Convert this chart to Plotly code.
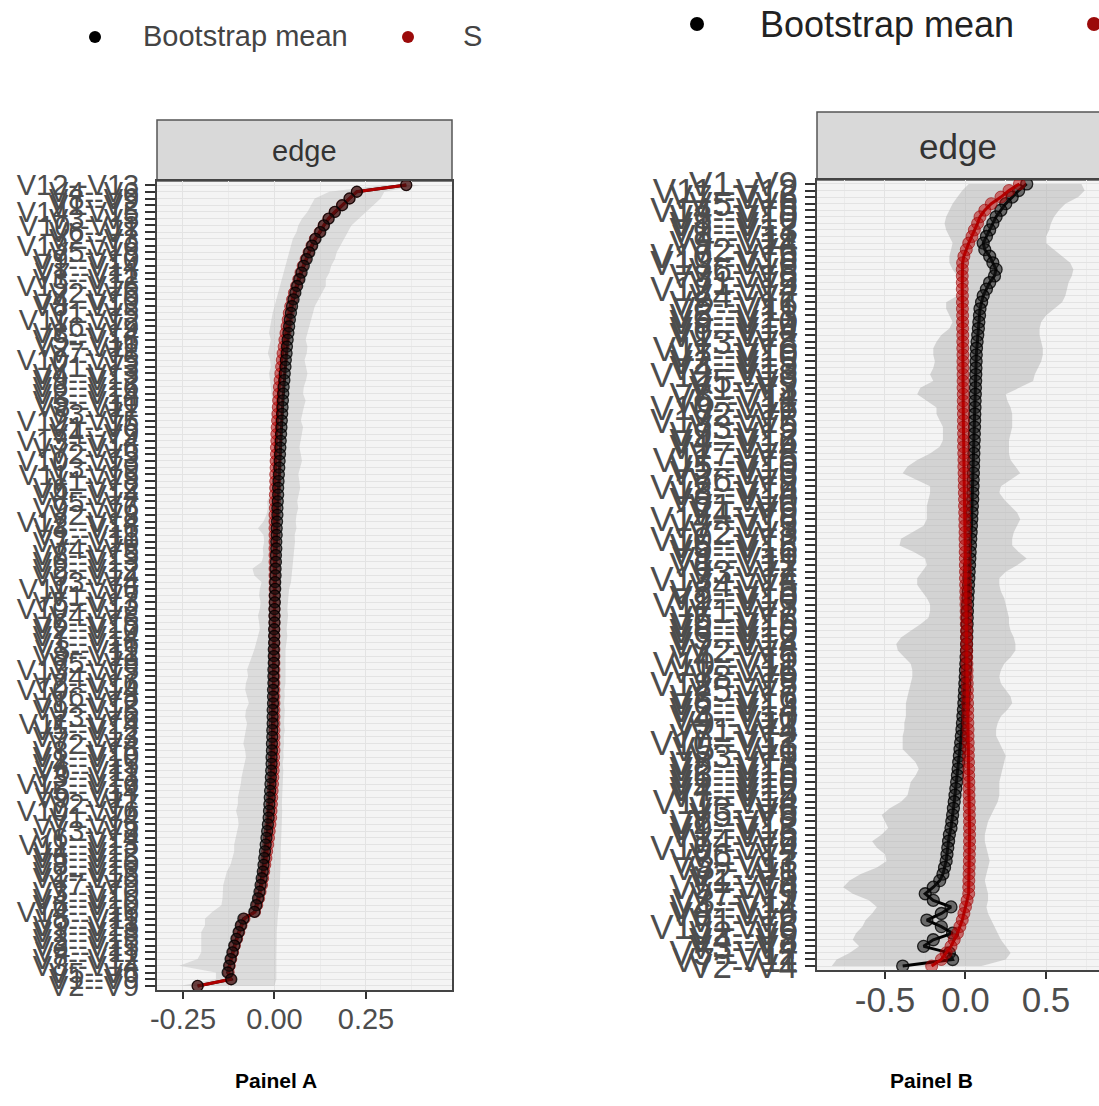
import plotly.graph_objects as go

W, H = 1099, 1106
FONT = "Liberation Sans"

# ---------------- Panel A data (top -> bottom) ----------------
edges_A = [
    "V12--V13", "V4--V6", "V8--V9", "V1--V2", "V14--V15", "V3--V5", "V10--V11", "V6--V7", "V2--V3", "V13--V16",
    "V5--V8", "V9--V10", "V1--V14", "V7--V11", "V3--V12", "V15--V16", "V2--V6", "V4--V10", "V8--V13", "V1--V5",
    "V11--V12", "V6--V9", "V3--V14", "V5--V16", "V2--V11", "V7--V8", "V10--V15", "V1--V3", "V4--V13", "V9--V12",
    "V6--V16", "V2--V14", "V5--V10", "V8--V11", "V3--V7", "V12--V15", "V1--V6", "V4--V9", "V13--V14", "V7--V16",
    "V2--V5", "V10--V13", "V3--V9", "V11--V15", "V1--V8", "V6--V12", "V4--V14", "V5--V7", "V9--V16", "V2--V8",
    "V12--V14", "V3--V16", "V1--V11", "V7--V10", "V4--V5", "V8--V15", "V6--V13", "V2--V12", "V9--V14", "V3--V4",
    "V11--V16", "V1--V7", "V5--V13", "V10--V12", "V4--V8", "V6--V15", "V2--V10", "V7--V14", "V1--V16", "V3--V11",
    "V8--V12", "V5--V9", "V13--V15", "V4--V7", "V2--V16", "V10--V14", "V6--V8", "V1--V12", "V9--V15", "V3--V6",
    "V11--V14", "V5--V12", "V7--V13", "V2--V4", "V8--V16", "V1--V10", "V4--V15", "V6--V11", "V3--V13", "V12--V16",
    "V5--V14", "V9--V11", "V2--V7", "V10--V16", "V1--V4", "V7--V15", "V3--V8", "V6--V14", "V11--V13", "V4--V12",
    "V5--V15", "V8--V10", "V2--V13", "V1--V15", "V7--V9", "V3--V10", "V4--V16", "V6--V10", "V14--V16", "V5--V11",
    "V9--V13", "V1--V13", "V2--V15", "V3--V15", "V4--V11", "V7--V12", "V8--V14", "V5--V6", "V1--V9", "V2--V9",
]
mean_A = [
    0.36, 0.225, 0.205, 0.185, 0.165, 0.148, 0.135, 0.125, 0.112, 0.103,
    0.095, 0.088, 0.08, 0.074, 0.068, 0.062, 0.057, 0.052, 0.048, 0.045,
    0.042, 0.04, 0.038, 0.036, 0.034, 0.033, 0.031, 0.03, 0.028, 0.027,
    0.025, 0.024, 0.023, 0.022, 0.021, 0.02, 0.019, 0.018, 0.017, 0.016,
    0.015, 0.014, 0.013, 0.012, 0.011, 0.01, 0.01, 0.009, 0.008, 0.008,
    0.007, 0.006, 0.006, 0.005, 0.005, 0.004, 0.004, 0.003, 0.003, 0.002,
    0.002, 0.001, 0.001, 0.0, 0.0, 0.0, -0.001, -0.001, -0.001, -0.002,
    -0.002, -0.002, -0.003, -0.003, -0.003, -0.004, -0.004, -0.004, -0.005, -0.005,
    -0.005, -0.006, -0.006, -0.007, -0.007, -0.008, -0.008, -0.009, -0.01, -0.011,
    -0.012, -0.013, -0.014, -0.015, -0.016, -0.018, -0.02, -0.022, -0.024, -0.026,
    -0.028, -0.03, -0.032, -0.035, -0.038, -0.041, -0.045, -0.05, -0.055, -0.085,
    -0.092, -0.098, -0.104, -0.11, -0.115, -0.12, -0.124, -0.128, -0.118, -0.21,
]
sample_A = [
    0.36, 0.225, 0.205, 0.184, 0.164, 0.147, 0.134, 0.123, 0.11, 0.101,
    0.093, 0.085, 0.077, 0.071, 0.065, 0.059, 0.053, 0.048, 0.043, 0.039,
    0.036, 0.033, 0.03, 0.027, 0.025, 0.022, 0.02, 0.018, 0.016, 0.014,
    0.012, 0.011, 0.01, 0.009, 0.008, 0.007, 0.006, 0.005, 0.005, 0.004,
    0.004, 0.003, 0.003, 0.002, 0.002, 0.002, 0.001, 0.001, 0.001, 0.0,
    0.0, 0.0, 0.0, 0.0, 0.0, 0.0, 0.0, 0.0, 0.0, 0.0,
    0.0, 0.0, 0.0, 0.0, 0.0, 0.0, 0.0, 0.0, 0.0, 0.0,
    0.0, 0.0, 0.0, 0.0, 0.0, 0.0, 0.0, 0.0, 0.0, 0.0,
    0.0, 0.0, 0.0, 0.0, 0.0, -0.001, -0.001, -0.002, -0.003, -0.004,
    -0.005, -0.006, -0.007, -0.008, -0.009, -0.011, -0.013, -0.015, -0.017, -0.02,
    -0.022, -0.025, -0.028, -0.031, -0.034, -0.038, -0.042, -0.047, -0.053, -0.082,
    -0.09, -0.096, -0.102, -0.108, -0.113, -0.118, -0.122, -0.125, -0.12, -0.21,
]
lower_A = [
    0.30, 0.15, 0.11, 0.10, 0.09, 0.075, 0.065, 0.06, 0.05, 0.045,
    0.04, 0.035, 0.03, 0.025, 0.02, 0.015, 0.01, 0.005, 0.0, -0.005,
    -0.01, -0.012, -0.015, -0.01, -0.014, -0.018, -0.012, -0.01, -0.015, -0.012,
    -0.01, -0.008, -0.006, -0.005, -0.01, -0.006, -0.004, -0.008, -0.005, -0.004,
    -0.006, -0.01, -0.007, -0.005, -0.01, -0.015, -0.012, -0.02, -0.018, -0.022,
    -0.03, -0.045, -0.03, -0.028, -0.032, -0.03, -0.035, -0.06, -0.055, -0.035,
    -0.04, -0.042, -0.038, -0.04, -0.045, -0.042, -0.04, -0.044, -0.05, -0.055,
    -0.06, -0.068, -0.075, -0.072, -0.078, -0.08, -0.075, -0.07, -0.078, -0.08,
    -0.075, -0.078, -0.082, -0.085, -0.08, -0.078, -0.082, -0.085, -0.09, -0.092,
    -0.095, -0.1, -0.1, -0.105, -0.1, -0.098, -0.102, -0.105, -0.11, -0.11,
    -0.115, -0.12, -0.13, -0.135, -0.14, -0.14, -0.142, -0.145, -0.17, -0.19,
    -0.19, -0.2, -0.2, -0.2, -0.2, -0.21, -0.26, -0.16, -0.16, -0.26,
]
upper_A = [
    0.40, 0.30, 0.29, 0.27, 0.25, 0.23, 0.21, 0.20, 0.19, 0.18,
    0.17, 0.165, 0.155, 0.15, 0.14, 0.14, 0.13, 0.12, 0.11, 0.105,
    0.10, 0.095, 0.09, 0.085, 0.09, 0.088, 0.082, 0.085, 0.09, 0.086,
    0.08, 0.078, 0.085, 0.08, 0.075, 0.072, 0.078, 0.074, 0.07, 0.068,
    0.072, 0.075, 0.07, 0.065, 0.068, 0.07, 0.066, 0.062, 0.065, 0.06,
    0.058, 0.06, 0.055, 0.056, 0.054, 0.052, 0.05, 0.05, 0.048, 0.045,
    0.04, 0.038, 0.036, 0.035, 0.037, 0.034, 0.033, 0.035, 0.032, 0.03,
    0.03, 0.03, 0.028, 0.028, 0.03, 0.027, 0.028, 0.026, 0.028, 0.027,
    0.026, 0.028, 0.025, 0.026, 0.024, 0.025, 0.022, 0.024, 0.023, 0.022,
    0.022, 0.02, 0.02, 0.021, 0.02, 0.019, 0.02, 0.018, 0.018, 0.017,
    0.017, 0.016, 0.015, 0.015, 0.014, 0.014, 0.013, 0.013, 0.01, 0.008,
    0.007, 0.006, 0.006, 0.005, 0.005, 0.005, 0.005, 0.005, 0.005, 0.0,
]
xticks_A = [-0.25, 0.0, 0.25]
xtick_text_A = ["-0.25", "0.00", "0.25"]

# ---------------- Panel B data (top -> bottom) ----------------
edges_B = [
    "V1--V9", "V11--V12", "V7--V16", "V5--V6", "V14--V15", "V3--V10", "V8--V12", "V1--V13", "V4--V11", "V9--V14",
    "V2--V6", "V10--V15", "V13--V16", "V6--V8", "V3--V15", "V1--V5", "V12--V14", "V4--V7", "V8--V16", "V2--V11",
    "V5--V13", "V9--V10", "V6--V14", "V1--V12", "V3--V8", "V11--V16", "V7--V10", "V2--V15", "V4--V13", "V12--V13",
    "V5--V9", "V1--V3", "V8--V14", "V6--V11", "V10--V16", "V2--V7", "V13--V15", "V3--V5", "V9--V12", "V4--V16",
    "V1--V14", "V7--V8", "V11--V15", "V5--V10", "V2--V13", "V6--V9", "V12--V16", "V3--V14", "V8--V10", "V1--V6",
    "V4--V9", "V14--V16", "V7--V13", "V2--V3", "V10--V12", "V5--V15", "V9--V16", "V1--V11", "V6--V12", "V3--V7",
    "V13--V14", "V4--V5", "V8--V15", "V2--V10", "V11--V13", "V1--V7", "V5--V16", "V9--V15", "V6--V10", "V3--V12",
    "V7--V14", "V2--V8", "V4--V15", "V10--V11", "V1--V16", "V8--V9", "V12--V15", "V5--V7", "V3--V16", "V6--V13",
    "V2--V14", "V4--V10", "V9--V11", "V1--V4", "V7--V12", "V10--V13", "V5--V11", "V3--V9", "V8--V13", "V2--V16",
    "V6--V15", "V1--V10", "V4--V12", "V7--V15", "V11--V14", "V3--V6", "V5--V8", "V2--V12", "V9--V13", "V1--V15",
    "V4--V6", "V10--V14", "V6--V7", "V3--V13", "V8--V11", "V2--V5", "V1--V8", "V5--V14", "V7--V9", "V3--V11",
    "V4--V14", "V6--V16", "V1--V2", "V15--V16", "V2--V9", "V4--V8", "V3--V4", "V5--V12", "V7--V11", "V2--V4",
]
mean_B = [
    0.38, 0.33, 0.29, 0.25, 0.22, 0.19, 0.17, 0.15, 0.13, 0.11,
    0.12, 0.15, 0.17, 0.19, 0.18, 0.15, 0.13, 0.11, 0.10, 0.09,
    0.087, 0.083, 0.08, 0.076, 0.072, 0.068, 0.067, 0.066, 0.065, 0.064,
    0.063, 0.062, 0.061, 0.06, 0.059, 0.058, 0.057, 0.056, 0.055, 0.054,
    0.053, 0.052, 0.051, 0.05, 0.049, 0.048, 0.047, 0.046, 0.045, 0.043,
    0.041, 0.039, 0.037, 0.035, 0.033, 0.031, 0.029, 0.027, 0.025, 0.023,
    0.021, 0.019, 0.017, 0.015, 0.013, 0.012, 0.011, 0.01, 0.009, 0.008,
    0.007, 0.006, 0.004, 0.002, 0.0, -0.002, -0.004, -0.006, -0.008, -0.01,
    -0.013, -0.016, -0.019, -0.022, -0.026, -0.03, -0.034, -0.038, -0.042, -0.046,
    -0.05, -0.055, -0.06, -0.065, -0.07, -0.075, -0.08, -0.085, -0.09, -0.1,
    -0.105, -0.11, -0.115, -0.12, -0.13, -0.14, -0.16, -0.2, -0.25, -0.2,
    -0.09, -0.15, -0.24, -0.15, -0.08, -0.2, -0.26, -0.1, -0.08, -0.39,
]
sample_B = [
    0.335, 0.27, 0.22, 0.16, 0.12, 0.09, 0.075, 0.055, 0.04, 0.02,
    0.005, -0.01, -0.018, -0.02, -0.02, -0.02, -0.02, -0.019, -0.019, -0.019,
    -0.018, -0.018, -0.018, -0.017, -0.017, -0.017, -0.016, -0.016, -0.016, -0.015,
    -0.015, -0.015, -0.014, -0.014, -0.014, -0.013, -0.013, -0.013, -0.012, -0.012,
    -0.012, -0.011, -0.01, -0.01, -0.009, -0.008, -0.008, -0.007, -0.006, -0.006,
    -0.005, -0.004, -0.004, -0.003, -0.003, -0.002, -0.002, -0.001, -0.001, 0.0,
    0.0, 0.001, 0.002, 0.002, 0.003, 0.004, 0.004, 0.005, 0.006, 0.006,
    0.007, 0.008, 0.008, 0.009, 0.01, 0.01, 0.011, 0.012, 0.012, 0.013,
    0.014, 0.014, 0.015, 0.016, 0.016, 0.017, 0.018, 0.018, 0.019, 0.02,
    0.02, 0.021, 0.022, 0.022, 0.023, 0.024, 0.024, 0.025, 0.025, 0.025,
    0.025, 0.025, 0.024, 0.024, 0.023, 0.022, 0.021, 0.02, 0.02, 0.01,
    0.0, -0.01, -0.02, -0.035, -0.05, -0.07, -0.09, -0.12, -0.15, -0.21,
]
lower_B = [
    0.02, -0.02, -0.05, -0.08, -0.10, -0.12, -0.13, -0.12, -0.10, -0.08,
    -0.09, -0.10, -0.10, -0.08, -0.05, -0.02, 0.0, -0.05, -0.12, -0.12,
    -0.10, -0.08, -0.10, -0.15, -0.18, -0.20, -0.20, -0.19, -0.20, -0.22,
    -0.20, -0.28, -0.30, -0.24, -0.18, -0.18, -0.16, -0.14, -0.14, -0.14,
    -0.16, -0.22, -0.30, -0.36, -0.39, -0.30, -0.22, -0.22, -0.23, -0.24,
    -0.24, -0.24, -0.26, -0.33, -0.40, -0.41, -0.32, -0.25, -0.24, -0.27,
    -0.30, -0.30, -0.27, -0.24, -0.22, -0.22, -0.23, -0.28, -0.34, -0.40,
    -0.43, -0.42, -0.38, -0.34, -0.33, -0.33, -0.34, -0.35, -0.36, -0.37,
    -0.37, -0.37, -0.38, -0.38, -0.39, -0.39, -0.39, -0.35, -0.31, -0.29,
    -0.31, -0.34, -0.35, -0.36, -0.40, -0.47, -0.52, -0.50, -0.48, -0.52,
    -0.58, -0.55, -0.50, -0.49, -0.55, -0.65, -0.72, -0.76, -0.70, -0.60,
    -0.55, -0.58, -0.62, -0.64, -0.68, -0.70, -0.66, -0.72, -0.80, -0.83,
]
upper_B = [
    0.72, 0.74, 0.70, 0.62, 0.58, 0.55, 0.53, 0.52, 0.50, 0.50,
    0.55, 0.60, 0.65, 0.67, 0.66, 0.64, 0.63, 0.62, 0.60, 0.55,
    0.50, 0.47, 0.46, 0.46, 0.47, 0.48, 0.48, 0.47, 0.45, 0.43,
    0.42, 0.33, 0.25, 0.26, 0.28, 0.29, 0.29, 0.29, 0.28, 0.27,
    0.27, 0.27, 0.28, 0.31, 0.34, 0.28, 0.22, 0.21, 0.24, 0.28,
    0.32, 0.34, 0.32, 0.30, 0.29, 0.29, 0.33, 0.38, 0.32, 0.25,
    0.21, 0.21, 0.22, 0.24, 0.25, 0.26, 0.27, 0.27, 0.28, 0.30,
    0.31, 0.31, 0.28, 0.24, 0.22, 0.21, 0.22, 0.25, 0.28, 0.29,
    0.26, 0.22, 0.20, 0.19, 0.19, 0.21, 0.23, 0.25, 0.24, 0.23,
    0.22, 0.21, 0.21, 0.21, 0.20, 0.18, 0.16, 0.14, 0.13, 0.12,
    0.12, 0.13, 0.14, 0.15, 0.14, 0.13, 0.12, 0.13, 0.14, 0.14,
    0.13, 0.14, 0.16, 0.18, 0.20, 0.22, 0.25, 0.28, 0.25, 0.10,
]
xticks_B = [-0.5, 0.0, 0.5]
xtick_text_B = ["-0.5", "0.0", "0.5"]

legend_label = "Bootstrap mean"
panel_titles = ["Painel A", "Painel B"]

# ---------------- helpers (layout only) ----------------
def px(x):
    return x / W

def py(y):
    return 1 - y / H

fig = go.Figure()

def add_panel(xa, ya, edges, mean, sample, lower, upper, msize, lw, fillc, red_on_top):
    idx = list(range(len(edges)))
    fig.add_trace(go.Scatter(
        x=upper + lower[::-1], y=idx + idx[::-1], fill="toself",
        fillcolor=fillc, line=dict(width=0), mode="lines",
        xaxis=xa, yaxis=ya, hoverinfo="skip", showlegend=False))
    black_line = go.Scatter(
        x=mean, y=idx, mode="lines", line=dict(color="black", width=lw),
        xaxis=xa, yaxis=ya, showlegend=False)
    red_line = go.Scatter(
        x=sample, y=idx, mode="lines", line=dict(color="#b00000", width=lw),
        xaxis=xa, yaxis=ya, showlegend=False)
    black_pts = go.Scatter(
        x=mean, y=idx, mode="markers",
        marker=dict(size=msize, color="rgba(20,20,20,0.55)",
                    line=dict(color="rgba(0,0,0,0.8)", width=1.3)),
        xaxis=xa, yaxis=ya, showlegend=False)
    red_pts = go.Scatter(
        x=sample, y=idx, mode="markers",
        marker=dict(size=msize, color="rgba(185,0,0,0.5)",
                    line=dict(color="rgba(150,0,0,0.6)", width=1)),
        xaxis=xa, yaxis=ya, showlegend=False)
    if red_on_top:
        for t in (black_line, black_pts, red_line, red_pts):
            fig.add_trace(t)
    else:
        for t in (black_line, red_line, red_pts, black_pts):
            fig.add_trace(t)

add_panel("x", "y", edges_A, mean_A, sample_A, lower_A, upper_A, 11, 3, "rgba(185,185,185,0.42)", False)
add_panel("x2", "y2", edges_B, mean_B, sample_B, lower_B, upper_B, 12, 3, "rgba(175,175,175,0.48)", True)

PLOT_BG = "#f4f4f4"
GRID = "#e3e3e3"
TICKC = "#333333"
LABC = "#4d4d4d"
BORDER = "#444444"

def xaxis_cfg(domain, rng, tv, tt, fs, dmaj, anchor, standoff):
    return dict(
        domain=domain, range=rng, tickmode="array", tickvals=tv, ticktext=tt, anchor=anchor,
        showgrid=True, gridcolor=GRID, gridwidth=1.2, zeroline=False,
        minor=dict(dtick=dmaj / 2, tick0=0, showgrid=True, gridcolor="#ebebeb", gridwidth=1),
        ticks="outside", ticklen=7, tickwidth=2, tickcolor=TICKC,
        ticklabelstandoff=standoff,
        tickfont=dict(family=FONT, size=fs, color=LABC),
        showline=True, linecolor=BORDER, linewidth=2, mirror=True,
        automargin=False, fixedrange=True)

def yaxis_cfg(domain, edges, fs, anchor, mirror=True):
    n = len(edges)
    return dict(
        domain=domain, range=[n - 1 + 0.6, -0.6], tickmode="array",
        tickvals=list(range(n)), ticktext=edges, anchor=anchor,
        showgrid=True, gridcolor=GRID, gridwidth=1, zeroline=False,
        ticks="outside", ticklen=10, tickwidth=2, tickcolor=TICKC,
        tickfont=dict(family=FONT, size=fs, color=LABC),
        showline=True, linecolor=BORDER, linewidth=2, mirror=mirror,
        automargin=False, fixedrange=True)

fig.update_layout(
    width=W, height=H, margin=dict(l=0, r=0, t=0, b=0),
    paper_bgcolor="white", plot_bgcolor=PLOT_BG, showlegend=False,
    xaxis=xaxis_cfg([px(157), px(452)], [-0.321, 0.485], xticks_A, xtick_text_A, 29, 0.25, "y", -5),
    yaxis=yaxis_cfg([py(990), py(181)], edges_A, 29, "x"),
    xaxis2=xaxis_cfg([px(817), 1.0], [-0.922, 0.829], xticks_B, xtick_text_B, 35, 0.5, "y2", -9),
    yaxis2=yaxis_cfg([py(970), py(180)], edges_B, 35, "x2", mirror=False),
)

shapes = []
annos = []
# strips
shapes.append(dict(type="rect", xref="paper", yref="paper", x0=px(157), x1=px(452),
                   y0=py(181), y1=py(120), fillcolor="#d9d9d9",
                   line=dict(color="#555555", width=1.5), layer="below"))
shapes.append(dict(type="rect", xref="paper", yref="paper", x0=px(817), x1=px(1120),
                   y0=py(180), y1=py(112), fillcolor="#d9d9d9",
                   line=dict(color="#555555", width=1.5), layer="below"))

def text(x, y, s, size, color, xanchor="center"):
    return dict(x=px(x), y=py(y), xref="paper", yref="paper", text=s,
                xanchor=xanchor, yanchor="middle", showarrow=False,
                font=dict(family=FONT, size=size, color=color))

annos.append(text(304.5, 151, "edge", 29, "#333333"))
annos.append(text(958, 146, "edge", 35, "#333333"))

# legends
def dot(cx, cy, r, color):
    return dict(type="circle", xref="paper", yref="paper",
                x0=px(cx - r), x1=px(cx + r), y0=py(cy + r), y1=py(cy - r),
                fillcolor=color, line=dict(width=0))

shapes.append(dot(95, 37, 6, "black"))
shapes.append(dot(408, 37, 6, "#9b0a0a"))
shapes.append(dot(697, 24, 7, "black"))
shapes.append(dot(1094, 24, 7, "#9b0a0a"))
annos.append(text(141, 36, legend_label, 29, "#444444", "left"))
annos.append(text(461, 36, "S", 29, "#444444", "left"))
annos.append(text(758, 24, legend_label, 36, "#222222", "left"))

# panel titles
annos.append(text(276, 1080, "<b>" + panel_titles[0] + "</b>", 21, "black"))
annos.append(text(931, 1080, "<b>" + panel_titles[1] + "</b>", 21, "black"))

fig.update_layout(shapes=shapes, annotations=annos)
fig.write_html("out.html", config={"displayModeBar": False},
               post_script="document.body.style.margin='0px';")
